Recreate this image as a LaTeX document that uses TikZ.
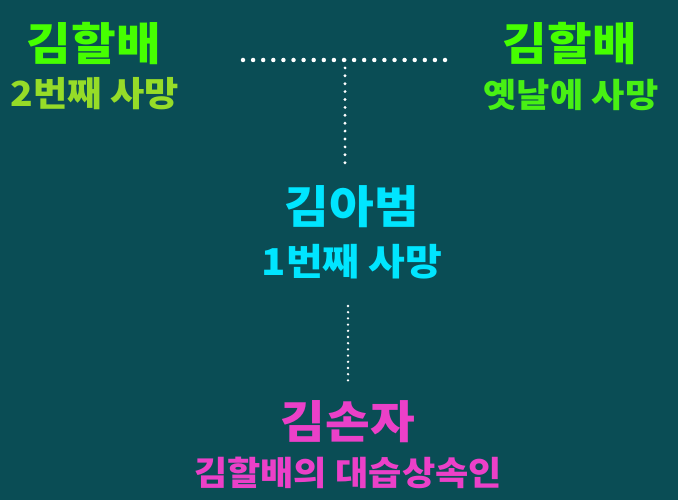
\documentclass[tikz,border=0pt]{standalone}
\usepackage{fontspec}
\newfontfamily\krfont{Noto Sans CJK KR Black}[FakeStretch=1.08]
\usepackage{tikz}

\definecolor{bgteal}{RGB}{10,77,85}
\definecolor{namegreen}{RGB}{70,255,0}
\definecolor{lime}{RGB}{150,220,40}
\definecolor{subgreen}{RGB}{72,240,20}
\definecolor{sonblue}{RGB}{0,229,255}
\definecolor{kidpink}{RGB}{235,64,200}

\begin{document}
\begin{tikzpicture}[x=1pt,y=-1pt,node distance=51pt,
    person/.style={inner sep=0pt,font=\krfont\fontsize{45}{45}\selectfont},
    info/.style={inner sep=0pt,font=\krfont\fontsize{33.5}{33.5}\selectfont},
    dots/.style={white,line cap=round,line width=4.5pt,dash pattern=on 0pt off 10.1pt},
    fine dots/.style={white,line cap=round,line width=3.2pt,dash pattern=on 0pt off 7.9pt}]

    \fill[bgteal] (0,0) rectangle (678,500);
    \useasboundingbox (0,0) rectangle (678,500);

    \node[person,namegreen] (gpa)  at (94,44)  {김할배};
    \node[info,lime,font=\krfont\fontsize{34.5}{34.5}\selectfont]
                            (gpaI) at (95,94)  {2번째 사망};
    \node[person,namegreen] (old)  at (570,44) {김할배};
    \node[info,subgreen]    (oldI) at (571,95) {옛날에 사망};

    \node[person,sonblue]   (dad)  at (352,207) {김아범};
    \node[info,sonblue,font=\krfont\fontsize{37}{37}\selectfont]
                            (dadI) [below of=dad,node distance=55pt] {1번째 사망};

    \node[person,kidpink]   (kid)  at (348,422) {김손자};
    \node[info,kidpink]     (kidI) [below of=kid] {김할배의 대습상속인};

    \coordinate (marry L) at (243,60);
    \coordinate (marry R) at (446,60);
    \coordinate (marry)   at (345,60);
    \coordinate (line1)   at (345,167);
    \coordinate (line2)   at (348,306);
    \coordinate (line3)   at (348,383);

    \path[dots]      (marry L) edge (marry R);
    \path[fine dots] (marry)   edge (line1);
    \path[fine dots,line width=2.6pt,dash pattern=on 0pt off 6.2pt] (line2) edge (line3);

\end{tikzpicture}
\end{document}
